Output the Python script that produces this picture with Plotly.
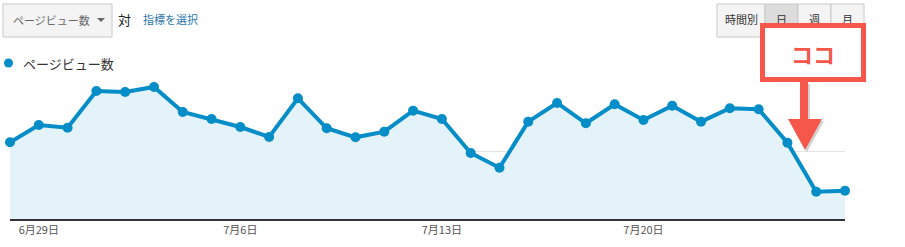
import plotly.graph_objects as go
import pandas as pd

dates = [d.strftime("%Y-%m-%d") for d in pd.date_range("2014-06-28", periods=30, freq="D")]
pageviews = [1136, 1393, 1353, 1896, 1881, 1956, 1585, 1481, 1363, 1215,
             1788, 1344, 1210, 1294, 1605, 1481, 978, 760, 1442, 1719,
             1418, 1699, 1467, 1679, 1442, 1640, 1625, 1130, 404, 419]
tick_dates = ["2014-06-29", "2014-07-06", "2014-07-13", "2014-07-20"]
tick_labels = ["6月29日", "7月6日", "7月13日", "7月20日"]
series_name = "ページビュー数"

W, H = 905, 247
L, R, T, B = 10, 845, 84, 219
FONT = "Noto Sans CJK JP"
BLUE = "#058dc7"
RED = "#f6574b"


def px(x):
    return (x - L) / (R - L)


def py(y):
    return (B - y) / (B - T)


fig = go.Figure()
fig.add_trace(go.Scatter(
    x=dates, y=pageviews, mode="lines+markers", name=series_name,
    line=dict(color=BLUE, width=4), marker=dict(color=BLUE, size=10),
    fill="tozeroy", fillcolor="#e4f2f9", cliponaxis=False, hoverinfo="skip",
))

shapes = []
annotations = []

# dropdown box
shapes.append(dict(type="rect", xref="paper", yref="paper", x0=px(3), x1=px(112), y0=py(37), y1=py(4),
                   line=dict(color="#c8c8c8", width=1), fillcolor="#f4f4f4", layer="above"))
annotations.append(dict(xref="paper", yref="paper", x=px(11), y=py(20), xanchor="left", yanchor="middle",
                        text="ページビュー数", showarrow=False, font=dict(family=FONT, size=11, color="#666")))
shapes.append(dict(type="path", xref="paper", yref="paper",
                   path=f"M{px(97)},{py(18)} L{px(105)},{py(18)} L{px(101)},{py(22)} Z",
                   fillcolor="#666", line=dict(width=0), layer="above"))
annotations.append(dict(xref="paper", yref="paper", x=px(116), y=py(19), xanchor="left", yanchor="middle",
                        text="対", showarrow=False, font=dict(family=FONT, size=13, color="#222")))
annotations.append(dict(xref="paper", yref="paper", x=px(141), y=py(19.5), xanchor="left", yanchor="middle",
                        text="指標を選択", showarrow=False, font=dict(family=FONT, size=11, color="#2a77ad")))

# legend
shapes.append(dict(type="circle", xref="paper", yref="paper", x0=px(4), x1=px(13), y0=py(67.5), y1=py(58.5),
                   fillcolor=BLUE, line=dict(width=0), layer="above"))
annotations.append(dict(xref="paper", yref="paper", x=px(21), y=py(63), xanchor="left", yanchor="middle",
                        text=series_name, showarrow=False, font=dict(family=FONT, size=13, color="#333")))

# button group
btns = [("時間別", 717, 765, "#f4f4f4"), ("日", 765, 798, "#dcdcdc"), ("週", 798, 831, "#f4f4f4"), ("月", 831, 864, "#f4f4f4")]
for label, x0, x1, bg in btns:
    shapes.append(dict(type="rect", xref="paper", yref="paper", x0=px(x0), x1=px(x1), y0=py(37), y1=py(4),
                       line=dict(color="#c8c8c8", width=1), fillcolor=bg, layer="above"))
    annotations.append(dict(xref="paper", yref="paper", x=px((x0 + x1) / 2), y=py(19), xanchor="center",
                            yanchor="middle", text=label, showarrow=False,
                            font=dict(family=FONT, size=11, color="#333")))

# red arrow (shadow + body)
def arrow_path(dx, dy):
    pts = [(800, 82), (808, 82), (808, 119), (822, 119), (805, 150), (788, 119), (800, 119)]
    return "M" + " L".join(f"{px(x + dx)},{py(y + dy)}" for x, y in pts) + " Z"

shapes.append(dict(type="path", xref="paper", yref="paper", path=arrow_path(2, 2),
                   fillcolor="rgba(0,0,0,0.18)", line=dict(width=0), layer="above"))
shapes.append(dict(type="path", xref="paper", yref="paper", path=arrow_path(0, 0),
                   fillcolor=RED, line=dict(width=0), layer="above"))

# red callout box
annotations.append(dict(xref="paper", yref="paper", x=px(813), y=py(52.5), xanchor="center", yanchor="middle",
                        text="<b>ココ</b>", showarrow=False, width=96, height=49, borderwidth=5, borderpad=0,
                        bordercolor=RED, bgcolor="white", font=dict(family=FONT, size=22, color=RED)))

fig.update_layout(
    width=W, height=H, margin=dict(l=L, r=W - R, t=T, b=H - B),
    paper_bgcolor="white", plot_bgcolor="white", showlegend=False,
    shapes=shapes, annotations=annotations,
    xaxis=dict(type="date", range=[dates[0], dates[-1]], tickvals=tick_dates, ticktext=tick_labels,
               showgrid=False, showline=True, linecolor="#333", linewidth=2, ticks="",
               tickfont=dict(family=FONT, size=11, color="#555"), zeroline=False, fixedrange=True),
    yaxis=dict(range=[0, 2000], dtick=1000, showticklabels=False, gridcolor="#e3e3e3", gridwidth=1,
               zeroline=False, showline=False, ticks="", fixedrange=True),
    font=dict(family=FONT),
)
fig.write_html("out.html", config={"displayModeBar": False})
